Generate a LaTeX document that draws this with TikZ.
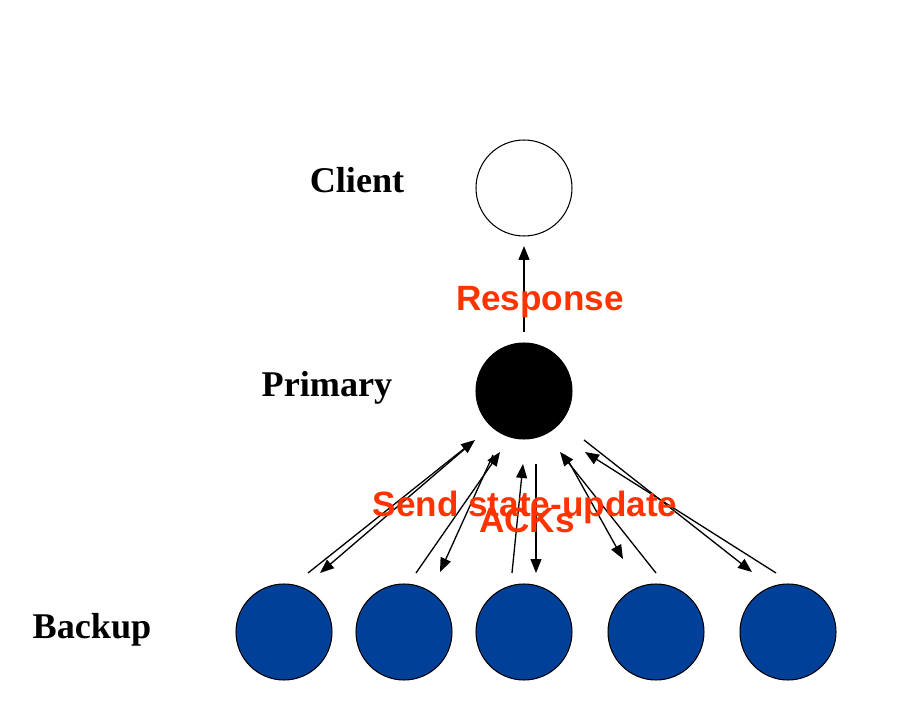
\documentclass[tikz,border=0pt]{standalone}
\usepackage{fontspec}
\usepackage{xcolor}
\usepackage{tikz}
\setmainfont{Liberation Serif}
\newfontfamily\labelfont{Liberation Sans}
\usetikzlibrary{arrows.meta,positioning}
\definecolor{msgred}{RGB}{255,51,0}
\definecolor{backupblue}{RGB}{0,64,152}
\tikzset{
    proc/.style={circle,draw=black,line width=0.6pt,minimum size=1.92cm,inner sep=0pt},
    role/.style={font=\fontsize{20.6pt}{24pt}\selectfont\bfseries,anchor=base},
    msg/.style={font=\labelfont\fontsize{20pt}{24pt}\selectfont\bfseries,text=msgred},
    arr/.style={line width=0.75pt,-{Triangle[length=0.28cm,width=0.22cm]}}
}
\begin{document}
\begin{tikzpicture}[x=0.02cm,y=-0.02cm]
    \useasboundingbox[fill=white] (0,0) rectangle (920,702);

    % Processes
    \node[proc,fill=white] (client) at (524,188) {};
    \node[proc,fill=black] (primary) at (524,391) {};
    \node[proc,fill=backupblue] (b1) at (284,632) {};
    \node[proc,fill=backupblue] (b2) at (404,632) {};
    \node[proc,fill=backupblue] (b3) at (524,632) {};
    \node[proc,fill=backupblue] (b4) at (656,632) {};
    \node[proc,fill=backupblue] (b5) at (788,632) {};

    % Roles
    \node[role] (lclient) at (357,193) {Client};
    \node[role] (lprimary) at (327,397) {Primary};
    \node[role] (lbackup) at (92,638) {Backup};

    % Response to client
    \coordinate (rs) at (524,332);
    \coordinate (re) at (524,246);
    \draw[arr] (rs) -- (re);

    % Ends of updates and ACKs
    \coordinate (u1s) at (467,447); \coordinate (u1e) at (320,573);
    \coordinate (u2s) at (493,455); \coordinate (u2e) at (440,572);
    \coordinate (u3s) at (536,464); \coordinate (u3e) at (536,573);
    \coordinate (u4s) at (565,455); \coordinate (u4e) at (623,559);
    \coordinate (u5s) at (584,440); \coordinate (u5e) at (752,572);
    \coordinate (a1s) at (308,573); \coordinate (a1e) at (475,440);
    \coordinate (a2s) at (416,573); \coordinate (a2e) at (500,452);
    \coordinate (a3s) at (512,573); \coordinate (a3e) at (523,464);
    \coordinate (a4s) at (656,573); \coordinate (a4e) at (560,452);
    \coordinate (a5s) at (776,573); \coordinate (a5e) at (585,452);

    % State updates
    \draw[arr] (u1s) -- (u1e);
    \draw[arr] (u2s) -- (u2e);
    \draw[arr] (u3s) -- (u3e);
    \draw[arr] (u4s) -- (u4e);
    \draw[arr] (u5s) -- (u5e);

    % ACKs
    \draw[arr] (a1s) -- (a1e);
    \draw[arr] (a2s) -- (a2e);
    \draw[arr] (a3s) -- (a3e);
    \draw[arr] (a4s) -- (a4e);
    \draw[arr] (a5s) -- (a5e);

    % Messages
    \node[msg] (response) at (540,302) {Response};
    \node[msg] (update) at (525,507) {Send state-update};
    \node[msg] (acks) at (527,520) {ACKs};
\end{tikzpicture}
\end{document}
